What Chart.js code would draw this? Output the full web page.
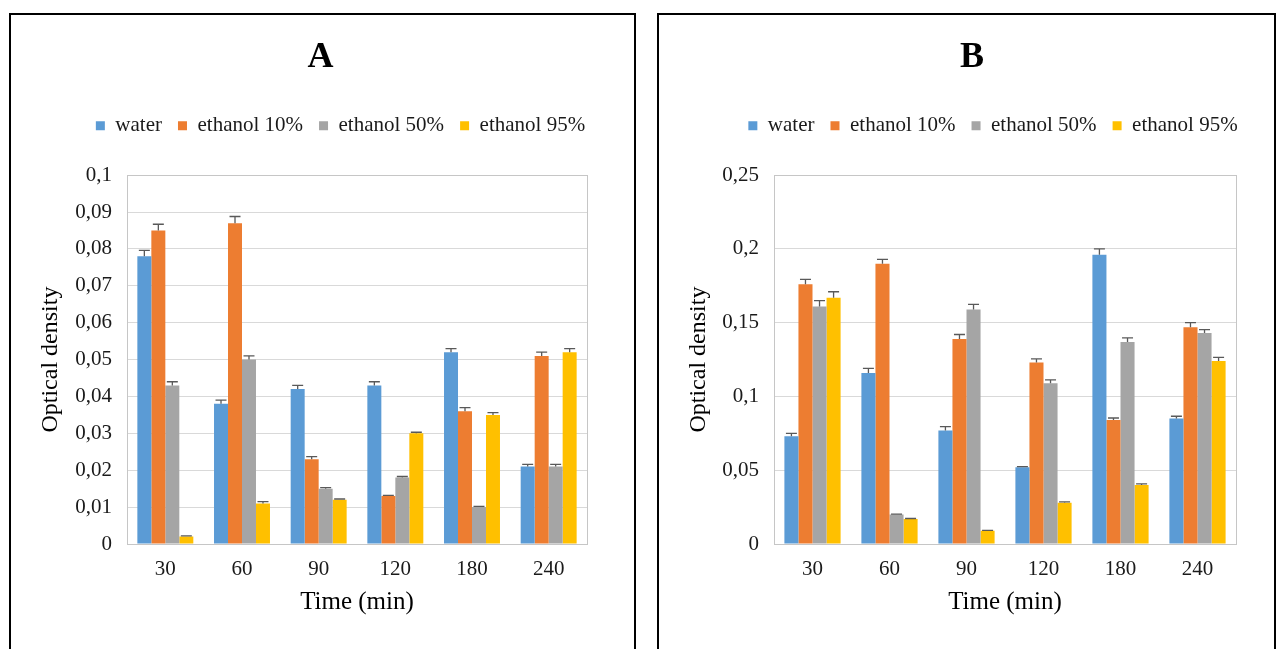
<!DOCTYPE html>
<html>
<head>
<meta charset="utf-8">
<script src="https://cdn.jsdelivr.net/npm/chart.js@4.4.1/dist/chart.umd.min.js"></script>
<style>
  body { margin: 0; background: #fff; width: 1277px; height: 649px; overflow: hidden; position: relative; }
  .panel { position: absolute; box-sizing: border-box; border: 2px solid #000; height: 700px; top: 13px; }
  canvas { position: absolute; }
</style>
</head>
<body>
<div class="panel" style="left:9px; width:627px;"></div>
<div class="panel" style="left:657px; width:619px;"></div>
<canvas id="chartA" width="622" height="635" style="left:12px; top:14px;"></canvas>
<canvas id="chartB" width="613" height="635" style="left:660px; top:14px;"></canvas>
<script>
// categories and series names
var times = ["30", "60", "90", "120", "180", "240"];
var seriesNames = ["water", "ethanol 10%", "ethanol 50%", "ethanol 95%"];
var seriesColors = ["#5B9BD5", "#ED7D31", "#A5A5A5", "#FFC000"];

// panel A values (optical density)
var waterA = [0.078, 0.038, 0.042, 0.043, 0.052, 0.021];
var eth10A = [0.085, 0.087, 0.023, 0.013, 0.036, 0.051];
var eth50A = [0.043, 0.050, 0.015, 0.018, 0.010, 0.021];
var eth95A = [0.002, 0.011, 0.012, 0.030, 0.035, 0.052];
// panel A error bars (plus only)
var waterErrA = [0.0016, 0.001, 0.001, 0.001, 0.001, 0.0006];
var eth10ErrA = [0.0017, 0.0018, 0.0007, 0.0002, 0.001, 0.001];
var eth50ErrA = [0.001, 0.001, 0.0003, 0.0003, 0.0002, 0.0006];
var eth95ErrA = [0.0002, 0.0005, 0.0002, 0.0003, 0.0006, 0.001];
var yTicksA = ["0", "0,01", "0,02", "0,03", "0,04", "0,05", "0,06", "0,07", "0,08", "0,09", "0,1"];

// panel B values
var waterB = [0.073, 0.116, 0.077, 0.052, 0.196, 0.085];
var eth10B = [0.176, 0.190, 0.139, 0.123, 0.084, 0.147];
var eth50B = [0.161, 0.020, 0.159, 0.109, 0.137, 0.143];
var eth95B = [0.167, 0.017, 0.009, 0.028, 0.040, 0.124];
var waterErrB = [0.002, 0.003, 0.0025, 0.0005, 0.004, 0.0016];
var eth10ErrB = [0.0034, 0.003, 0.003, 0.0025, 0.0014, 0.003];
var eth50ErrB = [0.004, 0.0003, 0.0034, 0.0023, 0.0027, 0.0023];
var eth95ErrB = [0.004, 0.0003, 0.0003, 0.0005, 0.0008, 0.0025];
var yTicksB = ["0", "0,05", "0,1", "0,15", "0,2", "0,25"];

Chart.defaults.font.family = "'Liberation Serif', 'Times New Roman', serif";
Chart.defaults.color = "#1a1a1a";

// draws the plus error bars on top of each bar
var errorBars = {
  id: "errorBars",
  afterDatasetsDraw: function(chart) {
    var ctx = chart.ctx;
    var yScale = chart.scales.y;
    chart.data.datasets.forEach(function(ds, i) {
      var meta = chart.getDatasetMeta(i);
      meta.data.forEach(function(bar, j) {
        var top = yScale.getPixelForValue(ds.data[j] + ds.errors[j]);
        ctx.save();
        ctx.strokeStyle = "#595959";
        ctx.lineWidth = 1.3;
        ctx.beginPath();
        ctx.moveTo(bar.x, bar.y);
        ctx.lineTo(bar.x, top);
        ctx.moveTo(bar.x - 5.5, top);
        ctx.lineTo(bar.x + 5.5, top);
        ctx.stroke();
        ctx.restore();
      });
    });
  }
};

// grey frame round the plot area
var plotFrame = {
  id: "plotFrame",
  afterDraw: function(chart) {
    var a = chart.chartArea;
    var ctx = chart.ctx;
    ctx.save();
    ctx.strokeStyle = "#c6c6c6";
    ctx.lineWidth = 1;
    ctx.strokeRect(Math.round(a.left) + 0.5, Math.round(a.top) + 0.5, Math.round(a.right - a.left), Math.round(a.bottom - a.top));
    ctx.restore();
  }
};

// space under the legend and horizontal placement of title / legend
var nudge = {
  id: "nudge",
  beforeLayout: function(chart, args, opts) {
    var lg = chart.legend;
    if (lg && !lg._gapAdded) {
      var fit = lg.fit;
      lg.fit = function() {
        fit.call(this);
        this.height += opts.gap;
      };
      lg._gapAdded = true;
    }
  },
  afterLayout: function(chart, args, opts) {
    if (chart.titleBlock) {
      chart.titleBlock.left += opts.title;
      chart.titleBlock.right += opts.title;
    }
    if (chart.legend) {
      chart.legend.left += opts.legend;
      chart.legend.right += opts.legend;
    }
  }
};

function makeChart(id, title, seriesData, seriesErr, yMax, yStep, yTicks, yWidth, rightPad, shift) {
  var datasets = [];
  for (var i = 0; i < seriesNames.length; i++) {
    datasets.push({
      label: seriesNames[i],
      data: seriesData[i],
      errors: seriesErr[i],
      backgroundColor: seriesColors[i],
      borderWidth: 0,
      barPercentage: 1,
      categoryPercentage: 0.73
    });
  }
  return new Chart(document.getElementById(id), {
    type: "bar",
    data: { labels: times, datasets: datasets },
    plugins: [errorBars, plotFrame, nudge],
    options: {
      responsive: false,
      animation: false,
      layout: { padding: { left: 0, right: rightPad, top: 0, bottom: 0 } },
      plugins: {
        title: {
          display: true,
          text: title,
          color: "#000",
          font: { size: 36, weight: "bold" },
          padding: { top: 22, bottom: 20 }
        },
        legend: {
          position: "top",
          labels: {
            boxWidth: 9,
            boxHeight: 9,
            padding: 16,
            color: "#1a1a1a",
            font: { size: 21 }
          }
        },
        tooltip: { enabled: false },
        nudge: shift
      },
      scales: {
        x: {
          grid: { display: false, drawTicks: false },
          border: { display: true, color: "#c6c6c6" },
          ticks: { padding: 13, font: { size: 21 }, color: "#1a1a1a" },
          title: {
            display: true,
            text: "Time (min)",
            color: "#000",
            font: { size: 25 },
            padding: { top: 0, bottom: 32 }
          },
          afterFit: function(scale) { scale.height = 105; }
        },
        y: {
          min: 0,
          max: yMax,
          grid: { color: "#d9d9d9", drawTicks: false },
          border: { display: true, color: "#c6c6c6" },
          ticks: {
            stepSize: yStep,
            padding: 15,
            font: { size: 21 },
            color: "#1a1a1a",
            callback: function(value, index) { return yTicks[index]; }
          },
          title: {
            display: true,
            text: "Optical density",
            color: "#000",
            font: { size: 24 },
            padding: { top: 24, bottom: 0 }
          },
          afterFit: function(scale) { scale.width = yWidth; }
        }
      }
    }
  });
}

makeChart("chartA", "A",
  [waterA, eth10A, eth50A, eth95A],
  [waterErrA, eth10ErrA, eth50ErrA, eth95ErrA],
  0.1, 0.01, yTicksA, 115, 47, { gap: 29, title: 21, legend: 41 });

makeChart("chartB", "B",
  [waterB, eth10B, eth50B, eth95B],
  [waterErrB, eth10ErrB, eth50ErrB, eth95ErrB],
  0.25, 0.05, yTicksB, 114, 37, { gap: 29, title: 24, legend: 45 });
</script>
</body>
</html>
